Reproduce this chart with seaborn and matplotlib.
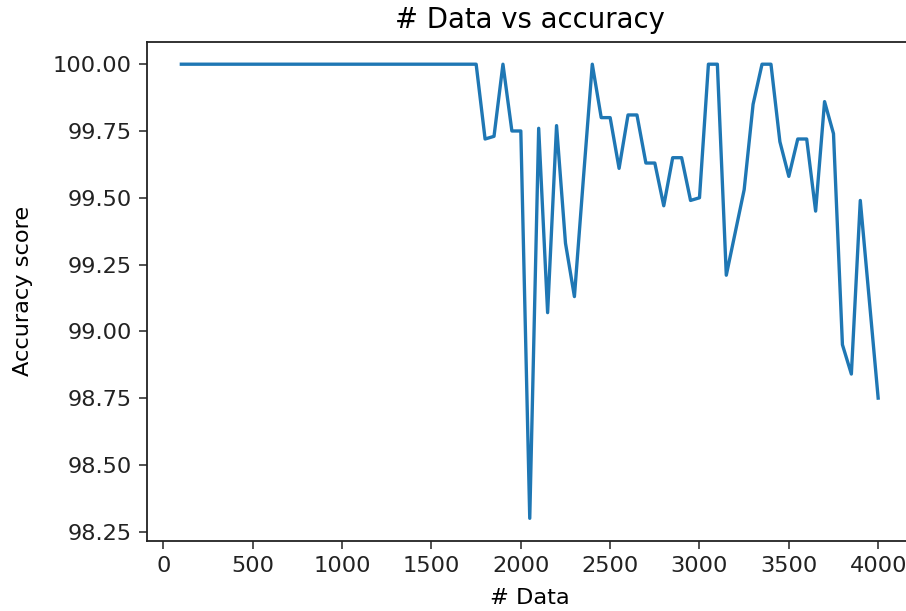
import matplotlib
matplotlib.use("Agg")
import matplotlib.pyplot as plt
import seaborn as sns
import pandas as pd

n_data = [100, 150, 200, 250, 300, 350, 400, 450, 500, 550, 600, 650, 700, 750,
          800, 850, 900, 950, 1000, 1050, 1100, 1150, 1200, 1250, 1300, 1350,
          1400, 1450, 1500, 1550, 1600, 1650, 1700, 1750, 1800, 1850, 1900, 1950,
          2000, 2050, 2100, 2150, 2200, 2250, 2300, 2350, 2400, 2450, 2500, 2550,
          2600, 2650, 2700, 2750, 2800, 2850, 2900, 2950, 3000, 3050, 3100, 3150,
          3200, 3250, 3300, 3350, 3400, 3450, 3500, 3550, 3600, 3650, 3700, 3750,
          3800, 3850, 3900, 3950, 4000]

accuracy = [100.0] * 34 + [
    99.72, 99.73, 100.0, 99.75, 99.75, 98.30, 99.76, 99.07, 99.77, 99.33,
    99.13, 99.57, 100.0, 99.80, 99.80, 99.61, 99.81, 99.81, 99.63, 99.63,
    99.47, 99.65, 99.65, 99.49, 99.50, 100.0, 100.0, 99.21, 99.37, 99.53,
    99.85, 100.0, 100.0, 99.71, 99.58, 99.72, 99.72, 99.45, 99.86, 99.74,
    98.95, 98.84, 99.49, 99.12, 98.75]

title = "# Data vs accuracy"
xlabel = "# Data"
ylabel = "Accuracy score"
yticks = [98.25, 98.50, 98.75, 99.00, 99.25, 99.50, 99.75, 100.00]
xticks = [0, 500, 1000, 1500, 2000, 2500, 3000, 3500, 4000]

df = pd.DataFrame({"n": n_data, "acc": accuracy})

plt.rcParams["font.family"] = ["DejaVu Sans"]
fig = plt.figure(figsize=(9.06, 6.11), dpi=100)
W, H = 906, 611
left, right, top, bottom = 146.5, 913, 41.5, 541
ax = fig.add_axes([left / W, 1 - bottom / H, (right - left) / W, (bottom - top) / H])

sns.lineplot(data=df, x="n", y="acc", ax=ax, color="#1f77b4", linewidth=2.4)

ax.set_xlim(-95, 4195)
ax.set_ylim(98.215, 100.085)
ax.set_xticks(xticks)
ax.set_yticks(yticks)
ax.set_yticklabels([f"{v:.2f}" for v in yticks])
ax.tick_params(labelsize=16.2, length=5.5, width=1.2, color="#333333",
               labelcolor="#222222", pad=5)
for s in ax.spines.values():
    s.set_linewidth(1.3)
    s.set_color("#222222")
ax.set_title(title, fontsize=19.8, pad=10)
ax.set_xlabel(xlabel, fontsize=16.2, labelpad=9)
ax.set_ylabel(ylabel, fontsize=16.2, labelpad=14)

fig.savefig("out.png", dpi=100)
